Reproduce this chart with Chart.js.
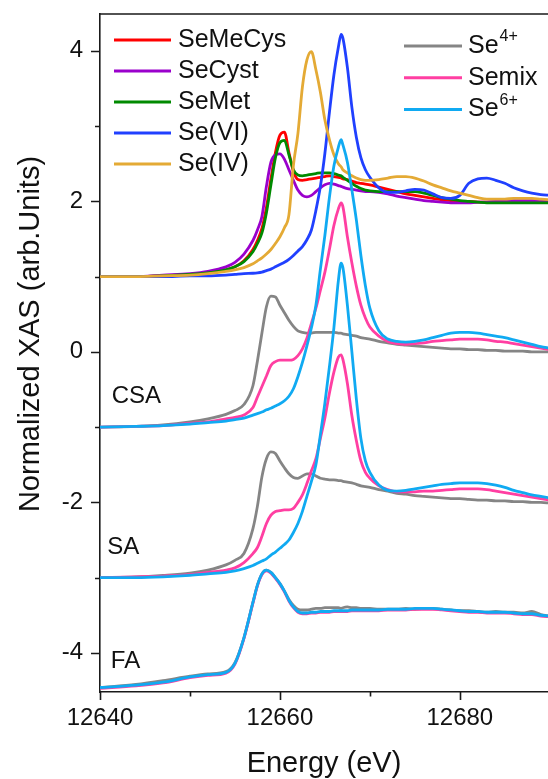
<!DOCTYPE html>
<html>
<head>
<meta charset="utf-8">
<title>Se K-edge XANES</title>
<script src="https://cdn.jsdelivr.net/npm/chart.js@4.4.0/dist/chart.umd.min.js"></script>
<style>
  html, body { margin: 0; padding: 0; background: #fff; }
  #wrap { width: 548px; height: 779px; }
</style>
</head>
<body>
<div id="wrap"><canvas id="xas" width="548" height="779"></canvas></div>
<script>
// Energy grid (eV) shared by every spectrum
const energy = [
  12640, 12644, 12647, 12650, 12652, 12654, 12655, 12656, 12657,
  12657.5, 12658, 12658.5, 12659, 12659.5, 12660, 12660.5, 12661, 12661.5, 12662,
  12662.5, 12663, 12663.5, 12664, 12664.5, 12665, 12665.5, 12666, 12666.5,
  12666.8, 12667, 12667.5, 12668, 12668.5, 12669, 12669.5, 12670,
  12671, 12672, 12673, 12674, 12675, 12676, 12677, 12678, 12679, 12680,
  12681, 12682, 12683, 12684, 12685, 12686, 12687, 12688, 12689, 12690
];

// Reference compounds (offset +1)
const seMeCys = [
  1.00, 1.00, 1.01, 1.03, 1.05, 1.09, 1.13, 1.21, 1.36,
  1.48, 1.64, 1.92, 2.30, 2.65, 2.88, 2.92, 2.65, 2.40, 2.29,
  2.28, 2.29, 2.30, 2.31, 2.32, 2.33, 2.34, 2.33, 2.32,
  2.31, 2.30, 2.29, 2.27, 2.25, 2.24, 2.23, 2.22,
  2.19, 2.16, 2.13, 2.10, 2.08, 2.06, 2.04, 2.02, 2.01, 2.00,
  2.00, 1.99, 1.99, 1.99, 1.99, 1.99, 1.99, 1.99, 1.99, 1.99
];
const seCyst = [
  1.00, 1.00, 1.02, 1.04, 1.07, 1.13, 1.19, 1.30, 1.48,
  1.62, 1.80, 2.20, 2.52, 2.62, 2.63, 2.56, 2.42, 2.28, 2.15,
  2.08, 2.06, 2.08, 2.13, 2.18, 2.22, 2.24, 2.23, 2.21,
  2.20, 2.19, 2.17, 2.16, 2.15, 2.14, 2.13, 2.13,
  2.12, 2.10, 2.07, 2.05, 2.03, 2.01, 2.00, 1.99, 1.98, 1.98,
  1.98, 1.99, 1.99, 2.00, 2.00, 2.01, 2.01, 2.01, 2.01, 2.01
];
const seMet = [
  1.00, 1.00, 1.01, 1.03, 1.05, 1.09, 1.13, 1.20, 1.33,
  1.44, 1.58, 1.85, 2.22, 2.58, 2.78, 2.81, 2.62, 2.42, 2.35,
  2.34, 2.35, 2.36, 2.37, 2.38, 2.38, 2.38, 2.37, 2.35,
  2.34, 2.32, 2.28, 2.24, 2.20, 2.17, 2.15, 2.14,
  2.13, 2.13, 2.13, 2.13, 2.13, 2.11, 2.08, 2.05, 2.03, 2.01,
  2.00, 1.99, 1.98, 1.98, 1.98, 1.98, 1.98, 1.98, 1.98, 1.98
];
const seVI = [
  1.00, 1.00, 1.00, 1.01, 1.01, 1.02, 1.03, 1.04, 1.045,
  1.05, 1.06, 1.08, 1.10, 1.13, 1.16, 1.19, 1.23, 1.28, 1.34,
  1.40, 1.49, 1.62, 1.88, 2.20, 2.64, 3.18, 3.68, 4.05,
  4.22, 4.17, 3.78, 3.25, 2.85, 2.58, 2.42, 2.32,
  2.18, 2.12, 2.12, 2.14, 2.16, 2.15, 2.10, 2.05, 2.04, 2.08,
  2.24, 2.30, 2.31, 2.28, 2.24, 2.18, 2.14, 2.11, 2.09, 2.08
];
const seIV = [
  1.00, 1.00, 1.01, 1.02, 1.04, 1.07, 1.09, 1.12, 1.17,
  1.21, 1.25, 1.30, 1.36, 1.44, 1.53, 1.65, 1.82, 2.48, 2.90,
  3.52, 3.88, 3.99, 3.75, 3.45, 3.08, 2.82, 2.62, 2.50,
  2.46, 2.42, 2.38, 2.34, 2.31, 2.29, 2.28, 2.28,
  2.29, 2.31, 2.33, 2.33, 2.31, 2.27, 2.22, 2.18, 2.14, 2.11,
  2.08, 2.05, 2.03, 2.03, 2.03, 2.04, 2.04, 2.04, 2.03, 2.02
];

// CSA sample fits (offset -1)
const csaSe4 = [
  -1.00, -0.99, -0.97, -0.93, -0.89, -0.83, -0.78, -0.70, -0.45,
  -0.12, 0.25, 0.60, 0.74, 0.73, 0.62, 0.52, 0.42, 0.34, 0.28,
  0.26, 0.25, 0.25, 0.26, 0.26, 0.26, 0.26, 0.26, 0.25,
  0.25, 0.24, 0.23, 0.22, 0.21, 0.19, 0.18, 0.17,
  0.14, 0.12, 0.10, 0.09, 0.08, 0.07, 0.06, 0.05, 0.04, 0.04,
  0.03, 0.03, 0.02, 0.02, 0.01, 0.01, 0.01, 0.00, 0.00, 0.00
];
const csaMix = [
  -1.00, -0.99, -0.98, -0.95, -0.93, -0.89, -0.87, -0.84, -0.74,
  -0.60, -0.46, -0.32, -0.18, -0.13, -0.11, -0.11, -0.11, -0.10, -0.05,
  0.04, 0.18, 0.38, 0.58, 0.82, 1.06, 1.36, 1.68, 1.90,
  1.98, 1.93, 1.53, 1.18, 0.87, 0.62, 0.45, 0.33,
  0.21, 0.14, 0.11, 0.10, 0.11, 0.12, 0.14, 0.15, 0.16, 0.17,
  0.17, 0.17, 0.16, 0.14, 0.13, 0.11, 0.09, 0.07, 0.05, 0.03
];
const csaSe6 = [
  -1.00, -0.99, -0.98, -0.96, -0.94, -0.92, -0.90, -0.88, -0.84,
  -0.82, -0.80, -0.77, -0.75, -0.72, -0.69, -0.65, -0.59, -0.49, -0.33,
  -0.14, 0.08, 0.32, 0.62, 1.10, 1.55, 2.05, 2.47, 2.72,
  2.82, 2.75, 2.52, 2.15, 1.75, 1.28, 0.88, 0.58,
  0.28, 0.17, 0.14, 0.13, 0.14, 0.16, 0.19, 0.22, 0.25, 0.26,
  0.26, 0.25, 0.23, 0.21, 0.19, 0.16, 0.13, 0.10, 0.07, 0.05
];

// SA sample fits (offset -3)
const saSe4 = [
  -3.00, -2.99, -2.97, -2.94, -2.90, -2.83, -2.77, -2.68, -2.35,
  -2.05, -1.66, -1.42, -1.33, -1.35, -1.45, -1.54, -1.62, -1.67, -1.68,
  -1.65, -1.62, -1.62, -1.65, -1.68, -1.69, -1.70, -1.70, -1.71,
  -1.71, -1.72, -1.73, -1.74, -1.76, -1.78, -1.79, -1.80,
  -1.83, -1.85, -1.88, -1.89, -1.91, -1.92, -1.93, -1.94, -1.95, -1.95,
  -1.96, -1.97, -1.97, -1.98, -1.98, -1.99, -1.99, -2.00, -2.00, -2.01
];
const saMix = [
  -3.00, -2.99, -2.98, -2.96, -2.93, -2.90, -2.87, -2.80, -2.68,
  -2.60, -2.45, -2.28, -2.17, -2.12, -2.11, -2.10, -2.10, -2.08, -2.00,
  -1.90, -1.75, -1.58, -1.42, -1.15, -0.88, -0.55, -0.27, -0.07,
  -0.04, -0.10, -0.42, -0.85, -1.18, -1.45, -1.60, -1.68,
  -1.78, -1.83, -1.86, -1.86, -1.86, -1.85, -1.85, -1.84, -1.83, -1.82,
  -1.82, -1.82, -1.83, -1.85, -1.87, -1.89, -1.91, -1.93, -1.95, -1.97
];
const saSe6 = [
  -3.00, -3.00, -2.99, -2.97, -2.95, -2.93, -2.91, -2.88, -2.84,
  -2.81, -2.78, -2.75, -2.70, -2.66, -2.61, -2.56, -2.50, -2.40, -2.28,
  -2.12, -1.92, -1.72, -1.50, -1.10, -0.68, -0.20, 0.32, 0.95,
  1.18, 1.12, 0.62, 0.00, -0.63, -1.15, -1.45, -1.60,
  -1.77, -1.84, -1.85, -1.84, -1.82, -1.80, -1.78, -1.76, -1.75, -1.74,
  -1.74, -1.74, -1.75, -1.77, -1.80, -1.84, -1.87, -1.90, -1.92, -1.94
];

// FA sample fits
const faSe4 = [
  -4.46, -4.42, -4.37, -4.31, -4.28, -4.25, -4.13, -3.80, -3.33,
  -3.10, -2.95, -2.90, -2.93, -3.00, -3.08, -3.18, -3.29, -3.37, -3.42,
  -3.43, -3.43, -3.42, -3.41, -3.41, -3.40, -3.40, -3.40, -3.40,
  -3.41, -3.40, -3.39, -3.40, -3.40, -3.41, -3.41, -3.41,
  -3.42, -3.42, -3.42, -3.41, -3.42, -3.41, -3.41, -3.42, -3.43, -3.44,
  -3.44, -3.45, -3.46, -3.45, -3.46, -3.46, -3.47, -3.45, -3.49, -3.51
];
const faMix = [
  -4.47, -4.44, -4.40, -4.33, -4.30, -4.27, -4.15, -3.81, -3.34,
  -3.11, -2.96, -2.91, -2.94, -3.01, -3.09, -3.19, -3.31, -3.40, -3.46,
  -3.48, -3.48, -3.47, -3.47, -3.46, -3.46, -3.46, -3.45, -3.45,
  -3.45, -3.45, -3.45, -3.44, -3.44, -3.44, -3.44, -3.44,
  -3.44, -3.43, -3.43, -3.43, -3.42, -3.42, -3.42, -3.43, -3.44, -3.45,
  -3.46, -3.46, -3.47, -3.47, -3.47, -3.48, -3.49, -3.49, -3.51, -3.52
];
const faSe6 = [
  -4.46, -4.43, -4.39, -4.32, -4.29, -4.26, -4.14, -3.80, -3.33,
  -3.10, -2.95, -2.90, -2.93, -3.00, -3.08, -3.18, -3.30, -3.39, -3.45,
  -3.47, -3.47, -3.46, -3.46, -3.45, -3.45, -3.45, -3.44, -3.44,
  -3.44, -3.44, -3.44, -3.43, -3.43, -3.43, -3.43, -3.43,
  -3.43, -3.42, -3.42, -3.42, -3.41, -3.41, -3.41, -3.42, -3.43, -3.44,
  -3.45, -3.45, -3.46, -3.46, -3.46, -3.47, -3.48, -3.48, -3.50, -3.51
];

const xTickValues = [12640, 12660, 12680];
const xMinorValues = [12650, 12670];
const yTickValues = [-4, -2, 0, 2, 4];
const yMinorValues = [-3, -1, 1, 3];

const refNames = ['SeMeCys', 'SeCyst', 'SeMet', 'Se(VI)', 'Se(IV)'];
const fitNames = [['Se', '4+'], ['Semix', ''], ['Se', '6+']];
const sampleLabels = [['CSA', 12641.3, -0.68], ['SA', 12640.8, -2.68], ['FA', 12641.2, -4.2]];

const RED = '#ff0000', PURPLE = '#9a00cc', GREEN = '#008a00', BLUE = '#2040ff', GOLD = '#e4aa35';
const GRAY = '#858585', PINK = '#ff3fa2', SKY = '#10aaf2';
const FONT = "'Liberation Sans', Arial, sans-serif";

const series = [
  [seMeCys, RED], [seCyst, PURPLE], [seMet, GREEN], [seVI, BLUE], [seIV, GOLD],
  [csaSe4, GRAY], [csaMix, PINK], [csaSe6, SKY],
  [saSe4, GRAY], [saMix, PINK], [saSe6, SKY],
  [faSe4, GRAY], [faMix, PINK], [faSe6, SKY]
];

const datasets = series.map(([vals, color], i) => ({
  data: energy.map((e, k) => ({ x: e, y: vals[k] })),
  borderColor: color,
  borderWidth: 2.8,
  pointRadius: 0,
  fill: false,
  cubicInterpolationMode: 'monotone',
  order: series.length - i   // later spectra sit on top
}));

// Frame, tick marks, legend, sample names and axis titles
const decorations = {
  id: 'decorations',
  afterDraw(chart) {
    const { ctx, chartArea: a, scales: { x, y } } = chart;
    ctx.save();
    ctx.strokeStyle = '#1a1a1a';
    ctx.lineWidth = 1.6;
    ctx.beginPath();
    ctx.moveTo(a.left, a.top);
    ctx.lineTo(a.right + 1, a.top);
    yTickValues.forEach(v => { const p = Math.round(y.getPixelForValue(v)) + 0.5; ctx.moveTo(a.left - 9, p); ctx.lineTo(a.left, p); });
    yMinorValues.forEach(v => { const p = Math.round(y.getPixelForValue(v)) + 0.5; ctx.moveTo(a.left - 5, p); ctx.lineTo(a.left, p); });
    xTickValues.forEach(v => { const p = Math.round(x.getPixelForValue(v)) + 0.5; ctx.moveTo(p, a.bottom); ctx.lineTo(p, a.bottom + 8); });
    xMinorValues.forEach(v => { const p = Math.round(x.getPixelForValue(v)) + 0.5; ctx.moveTo(p, a.bottom); ctx.lineTo(p, a.bottom + 4.5); });
    ctx.stroke();

    ctx.fillStyle = '#111';
    ctx.textBaseline = 'middle';
    ctx.textAlign = 'left';
    ctx.lineWidth = 3;
    ctx.lineCap = 'butt';

    // left legend column: reference compounds
    refNames.forEach((name, i) => {
      const yy = 40 + i * 31;
      ctx.strokeStyle = series[i][1];
      ctx.beginPath(); ctx.moveTo(114, yy); ctx.lineTo(171, yy); ctx.stroke();
      ctx.font = '25px ' + FONT;
      ctx.fillText(name, 178, yy);
    });

    // right legend column: fit components
    const fitColors = [GRAY, PINK, SKY];
    fitNames.forEach(([base, sup], i) => {
      const yy = 46 + i * 31.8;
      ctx.strokeStyle = fitColors[i];
      ctx.beginPath(); ctx.moveTo(404, yy); ctx.lineTo(462, yy); ctx.stroke();
      ctx.font = '25px ' + FONT;
      ctx.fillText(base, 468, yy);
      if (sup) {
        const w = ctx.measureText(base).width;
        ctx.font = '16px ' + FONT;
        ctx.fillText(sup, 468 + w + 1, yy - 9);
      }
    });

    // sample names
    ctx.font = '24px ' + FONT;
    ctx.textBaseline = 'alphabetic';
    sampleLabels.forEach(([t, e, v]) => ctx.fillText(t, x.getPixelForValue(e), y.getPixelForValue(v)));

    // axis titles
    ctx.font = '29px ' + FONT;
    ctx.textAlign = 'center';
    ctx.fillText('Energy (eV)', (a.left + a.right) / 2, 772);
    ctx.translate(39, 334);
    ctx.rotate(-Math.PI / 2);
    ctx.fillText('Normalized XAS (arb.Units)', 0, 0);
    ctx.restore();
  }
};

new Chart(document.getElementById('xas'), {
  type: 'line',
  data: { datasets },
  options: {
    responsive: false,
    animation: false,
    devicePixelRatio: 1,
    layout: { padding: { top: 14, right: 0, left: 0, bottom: 0 } },
    plugins: { legend: { display: false }, tooltip: { enabled: false } },
    scales: {
      x: {
        type: 'linear',
        min: 12640,
        max: 12689.8,
        afterBuildTicks: s => { s.ticks = xTickValues.map(v => ({ value: v })); },
        afterFit: s => { s.height = 87; s.paddingLeft = 0; s.paddingRight = 0; },
        grid: { display: false, drawTicks: false },
        border: { display: true, color: '#1a1a1a', width: 1.6 },
        ticks: {
          color: '#111', padding: 12, maxRotation: 0, autoSkip: false,
          font: { family: FONT, size: 24 },
          callback: v => String(v)
        }
      },
      y: {
        type: 'linear',
        min: -4.52,
        max: 4.49,
        afterBuildTicks: s => { s.ticks = yTickValues.map(v => ({ value: v })); },
        afterFit: s => { s.width = 100; s.paddingTop = 0; s.paddingBottom = 0; },
        grid: { display: false, drawTicks: false },
        border: { display: true, color: '#1a1a1a', width: 1.6 },
        ticks: { color: '#111', padding: 17, font: { family: FONT, size: 24 } }
      }
    }
  },
  plugins: [decorations]
});
</script>
</body>
</html>
